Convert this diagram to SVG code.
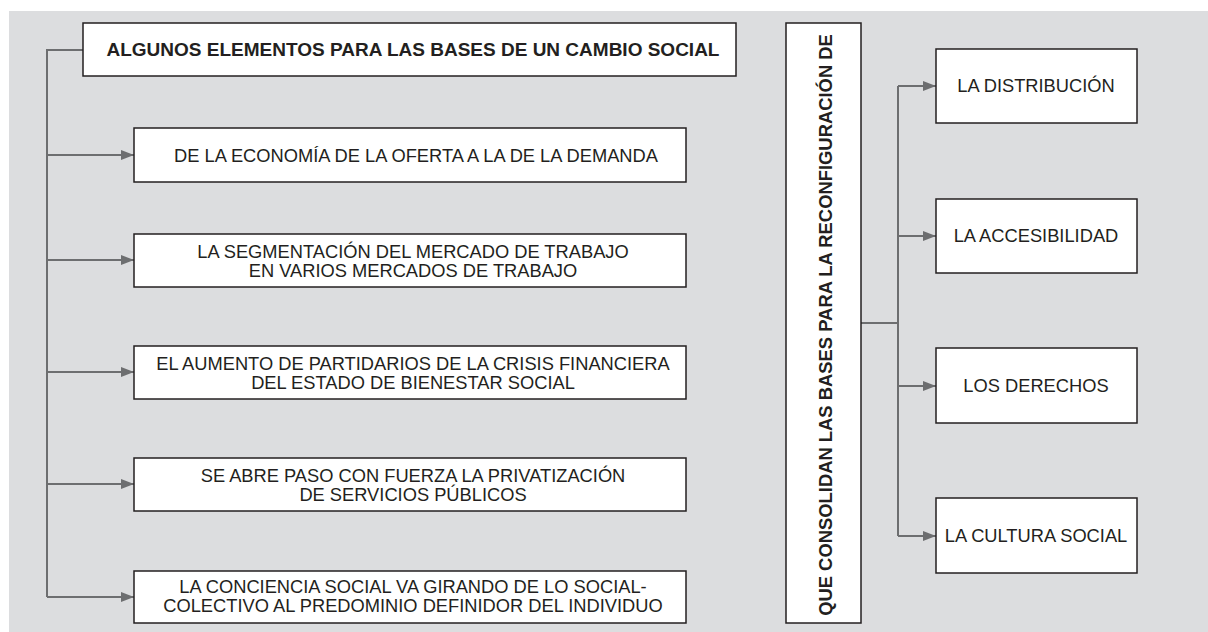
<svg xmlns="http://www.w3.org/2000/svg" width="1208" height="632" viewBox="0 0 1208 632">
<style>
.bg{fill:#dcdddf}
.box{fill:#ffffff;stroke:#231f20;stroke-width:1.5}
.t{font-family:"Liberation Sans",Arial,sans-serif;font-size:18.3px;fill:#231f20;text-anchor:middle}
.b{font-family:"Liberation Sans",Arial,sans-serif;font-size:19px;font-weight:bold;fill:#231f20;text-anchor:middle}
.v{font-size:18.4px}
.c{fill:none;stroke:#6d6e70;stroke-width:2}
</style>
<defs>
<marker id="ah" markerUnits="userSpaceOnUse" markerWidth="14" markerHeight="12" refX="13" refY="6" orient="auto">
<path d="M0,1 L13,6 L0,11 Z" fill="#6d6e70"/>
</marker>
</defs>
<rect x="0" y="0" width="1208" height="632" fill="#ffffff"/>
<rect class="bg" x="9" y="11" width="1199" height="621"/>
<g id="connectors">
<path class="c" d="M83,50 H47 V597"/>
<path class="c" d="M47,155 H134" marker-end="url(#ah)"/>
<path class="c" d="M47,260 H134" marker-end="url(#ah)"/>
<path class="c" d="M47,372 H134" marker-end="url(#ah)"/>
<path class="c" d="M47,484 H134" marker-end="url(#ah)"/>
<path class="c" d="M47,597 H134" marker-end="url(#ah)"/>
<path class="c" d="M861,323 H898"/>
<path class="c" d="M898,86 V536"/>
<path class="c" d="M898,86 H936" marker-end="url(#ah)"/>
<path class="c" d="M898,236 H936" marker-end="url(#ah)"/>
<path class="c" d="M898,386 H936" marker-end="url(#ah)"/>
<path class="c" d="M898,536 H936" marker-end="url(#ah)"/>
</g>
<g id="title">
<rect class="box" x="83" y="23" width="653" height="53"/>
<text class="b" x="413" y="56">ALGUNOS ELEMENTOS PARA LAS BASES DE UN CAMBIO SOCIAL</text>
</g>
<g id="n1">
<rect class="box" x="134" y="128" width="552" height="54"/>
<text class="t" x="416" y="162">DE LA ECONOMÍA DE LA OFERTA A LA DE LA DEMANDA</text>
</g>
<g id="n2">
<rect class="box" x="134" y="234" width="552" height="53"/>
<text class="t" x="413" y="258">LA SEGMENTACIÓN DEL MERCADO DE TRABAJO</text>
<text class="t" x="413" y="277">EN VARIOS MERCADOS DE TRABAJO</text>
</g>
<g id="n3">
<rect class="box" x="134" y="346" width="552" height="53"/>
<text class="t" x="413" y="370">EL AUMENTO DE PARTIDARIOS DE LA CRISIS FINANCIERA</text>
<text class="t" x="413" y="389">DEL ESTADO DE BIENESTAR SOCIAL</text>
</g>
<g id="n4">
<rect class="box" x="134" y="458" width="552" height="53"/>
<text class="t" x="413" y="482">SE ABRE PASO CON FUERZA LA PRIVATIZACIÓN</text>
<text class="t" x="413" y="501">DE SERVICIOS PÚBLICOS</text>
</g>
<g id="n5">
<rect class="box" x="134" y="571" width="552" height="52"/>
<text class="t" x="413" y="593">LA CONCIENCIA SOCIAL VA GIRANDO DE LO SOCIAL-</text>
<text class="t" x="413" y="612">COLECTIVO AL PREDOMINIO DEFINIDOR DEL INDIVIDUO</text>
</g>
<g id="vertical">
<rect class="box" x="786" y="23" width="75" height="600"/>
<text class="b v" transform="translate(832,325) rotate(-90)" x="0" y="0">QUE CONSOLIDAN LAS BASES PARA LA RECONFIGURACIÓN DE</text>
</g>
<g id="r1">
<rect class="box" x="936" y="49" width="201" height="74"/>
<text class="t" x="1036" y="92">LA DISTRIBUCIÓN</text>
</g>
<g id="r2">
<rect class="box" x="936" y="199" width="201" height="74"/>
<text class="t" x="1036" y="242">LA ACCESIBILIDAD</text>
</g>
<g id="r3">
<rect class="box" x="936" y="348" width="201" height="75"/>
<text class="t" x="1036" y="392">LOS DERECHOS</text>
</g>
<g id="r4">
<rect class="box" x="936" y="498" width="201" height="75"/>
<text class="t" x="1036" y="542">LA CULTURA SOCIAL</text>
</g>
</svg>
